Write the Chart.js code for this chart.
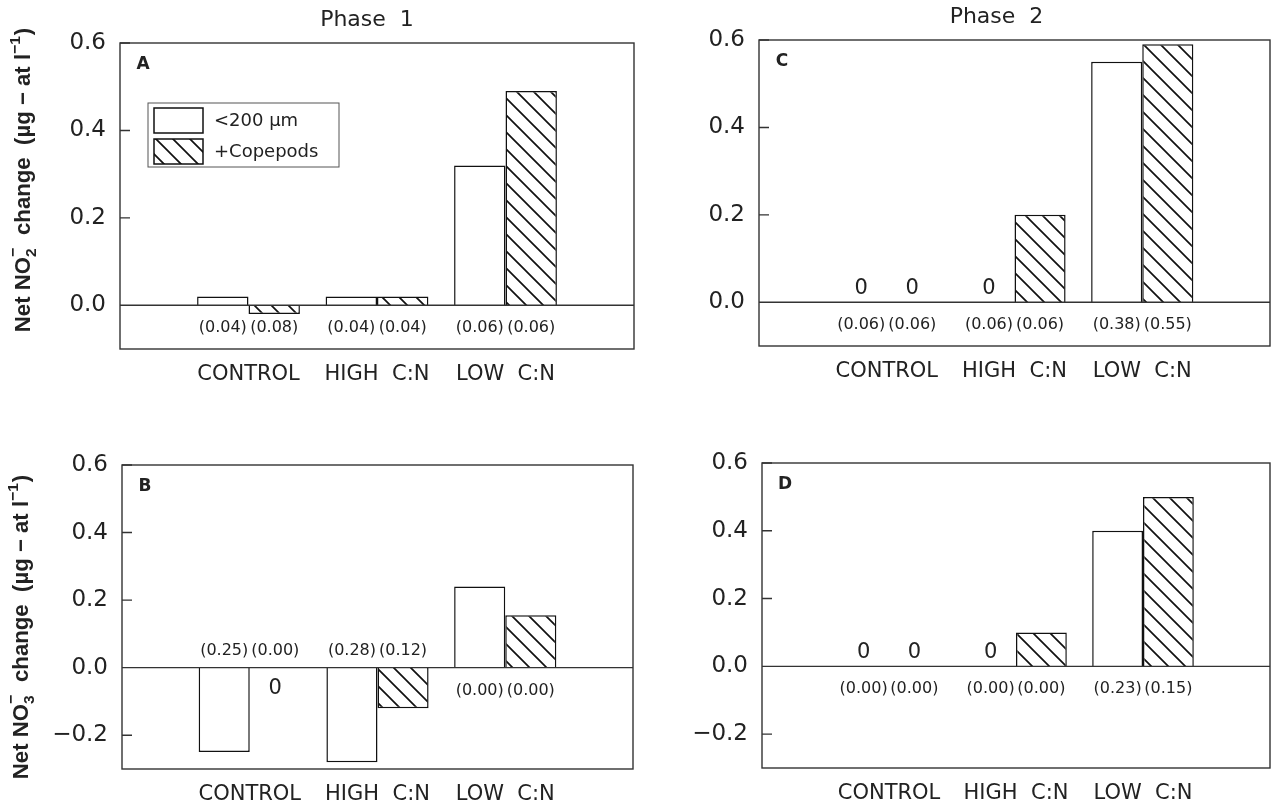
<!DOCTYPE html>
<html lang="en">
<head>
<meta charset="UTF-8">
<title>Net NO2- / NO3- change, Phase 1 and Phase 2</title>
<style>
  body { margin: 0; background: #fff; }
  canvas.panel { position: absolute; }
</style>
</head>
<body>
<canvas id="panelA" class="panel" width="640" height="410" style="left:0;top:0"></canvas>
<canvas id="panelB" class="panel" width="640" height="398" style="left:0;top:410px"></canvas>
<canvas id="panelC" class="panel" width="631" height="410" style="left:640px;top:0"></canvas>
<canvas id="panelD" class="panel" width="631" height="398" style="left:640px;top:410px"></canvas>

<script src="https://cdn.jsdelivr.net/npm/chart.js"></script>
<script>
// ---- data ----
const categories = ['CONTROL', 'HIGH  C:N', 'LOW  C:N'];
const seriesNames = ['<200 µm', '+Copepods'];

const ticksNO2 = [0, 0.2, 0.4, 0.6];
const ticksNO3 = [-0.2, 0, 0.2, 0.4, 0.6];

// A: net NO2- change, phase 1
const no2Phase1Small = [0.02, 0.02, 0.32];
const no2Phase1Cope = [-0.02, 0.02, 0.49];
const no2Phase1SmallSE = ['(0.04)', '(0.04)', '(0.06)'];
const no2Phase1CopeSE = ['(0.08)', '(0.04)', '(0.06)'];

// B: net NO3- change, phase 1
const no3Phase1Small = [-0.25, -0.28, 0.24];
const no3Phase1Cope = [0, -0.12, 0.155];
const no3Phase1SmallSE = ['(0.25)', '(0.28)', '(0.00)'];
const no3Phase1CopeSE = ['(0.00)', '(0.12)', '(0.00)'];

// C: net NO2- change, phase 2
const no2Phase2Small = [0, 0, 0.55];
const no2Phase2Cope = [0, 0.20, 0.59];
const no2Phase2SmallSE = ['(0.06)', '(0.06)', '(0.38)'];
const no2Phase2CopeSE = ['(0.06)', '(0.06)', '(0.55)'];

// D: net NO3- change, phase 2
const no3Phase2Small = [0, 0, 0.40];
const no3Phase2Cope = [0, 0.10, 0.50];
const no3Phase2SmallSE = ['(0.00)', '(0.00)', '(0.23)'];
const no3Phase2CopeSE = ['(0.00)', '(0.00)', '(0.15)'];

// ---- drawing ----
const FONT = "'DejaVu Sans', 'Liberation Sans', sans-serif";
const INK = '#222';

function makeHatch() {
    const s = 17;
    const c = document.createElement('canvas');
    c.width = s; c.height = s;
    const g = c.getContext('2d');
    g.fillStyle = '#fff';
    g.fillRect(0, 0, s, s);
    g.strokeStyle = '#111';
    g.lineWidth = 1.7;
    g.beginPath();
    g.moveTo(-2, -2); g.lineTo(s + 2, s + 2);
    g.moveTo(-2, s - 2); g.lineTo(2, s + 2);
    g.moveTo(s - 2, -2); g.lineTo(s + 2, 2);
    g.stroke();
    return document.createElement('canvas').getContext('2d').createPattern(c, 'repeat');
}
const hatch = makeHatch();

function pad(arr) { return [null].concat(arr, [null]); }

// rotated axis title: Net NOx- change (µg - at l-1)
function drawYTitle(ctx, cx, cy, len, sub) {
    const parts = [
        {t: 'Net NO', k: 'n'},
        {t: sub, k: 'sub', stack: '−'},
        {t: '  change  (µg − at l', k: 'n'},
        {t: '−1', k: 'sup'},
        {t: ')', k: 'n'}
    ];
    let fs = 17;
    const measure = function (size) {
        let w = 0;
        parts.forEach(function (p) {
            ctx.font = 'bold ' + (p.k === 'n' ? size : size * 0.7) + "px 'Liberation Sans', Arial, sans-serif";
            w += ctx.measureText(p.t).width + (p.k === 'n' ? 0 : 1);
        });
        return w;
    };
    fs = fs * len / measure(fs);
    const total = measure(fs);
    ctx.save();
    ctx.translate(cx, cy);
    ctx.rotate(-Math.PI / 2);
    ctx.fillStyle = INK;
    ctx.textBaseline = 'alphabetic';
    ctx.textAlign = 'left';
    let x = -total / 2;
    const base = fs * 0.36;
    parts.forEach(function (p) {
        const small = p.k !== 'n';
        ctx.font = 'bold ' + (small ? fs * 0.7 : fs) + "px 'Liberation Sans', Arial, sans-serif";
        let y = base;
        if (p.k === 'sub') y = base + fs * 0.25;
        if (p.k === 'sup') y = base - fs * 0.45;
        ctx.fillText(p.t, x, y);
        if (p.stack) ctx.fillText(p.stack, x, base - fs * 0.55);
        x += ctx.measureText(p.t).width + (small ? 1 : 0);
    });
    ctx.restore();
}

const decor = {
    id: 'decor',
    afterDatasetsDraw(chart) {
        const cfg = chart.options.plugins.decor;
        const ctx = chart.ctx;
        const a = chart.chartArea;
        const ys = chart.scales.y;
        const zeroY = ys.getPixelForValue(0);
        ctx.save();
        ctx.strokeStyle = '#333';
        ctx.lineWidth = 1.4;
        // frame and zero line
        ctx.strokeRect(a.left, a.top, a.right - a.left, a.bottom - a.top);
        ctx.beginPath();
        ctx.moveTo(a.left, zeroY); ctx.lineTo(a.right, zeroY);
        // inward tick marks
        ys.ticks.forEach(function (t) {
            const py = ys.getPixelForValue(t.value);
            ctx.moveTo(a.left, py); ctx.lineTo(a.left + 10, py);
        });
        ctx.stroke();

        ctx.fillStyle = INK;
        ctx.textAlign = 'center';
        ctx.textBaseline = 'middle';
        // SE labels and zero markers
        const small = cfg.values[0];
        [0, 1].forEach(function (d) {
            const meta = chart.getDatasetMeta(d);
            cfg.values[d].forEach(function (v, i) {
                const el = meta.data[i + 1];
                const above = small[i] < -0.05;
                ctx.font = '16px ' + FONT;
                ctx.fillText(cfg.se[d][i], el.x, above ? zeroY - 17 : zeroY + 23);
                if (v === 0) {
                    ctx.font = '21px ' + FONT;
                    ctx.fillText('0', el.x, above ? zeroY + 21 : zeroY - 14);
                }
            });
        });
        // panel letter
        ctx.font = 'bold 17px ' + FONT;
        ctx.fillText(cfg.letter, a.left + 23, a.top + 22);
        // phase title
        if (cfg.title) {
            ctx.font = '22px ' + FONT;
            ctx.fillText(cfg.title, (a.left + a.right) / 2 + cfg.titleDx, a.top - 23);
        }
        // legend
        if (cfg.legend) {
            const L = cfg.legend;
            ctx.lineWidth = 1;
            ctx.strokeStyle = '#555';
            ctx.strokeRect(L.x, L.y, 191, 64);
            ctx.lineWidth = 1.5;
            ctx.strokeStyle = '#111';
            ctx.textAlign = 'left';
            ctx.font = '18px ' + FONT;
            chart.data.datasets.forEach(function (ds, k) {
                const sy = L.y + 5 + k * 31;
                ctx.fillStyle = ds.backgroundColor;
                ctx.fillRect(L.x + 6, sy, 49, 25);
                ctx.strokeRect(L.x + 6, sy, 49, 25);
                ctx.fillStyle = INK;
                ctx.fillText(ds.label, L.x + 66, sy + 13);
            });
        }
        ctx.restore();
        if (cfg.yTitle) drawYTitle(ctx, cfg.yTitle.x, cfg.yTitle.y, 305, cfg.yTitle.sub);
    }
};

function makePanel(id, area, size, yMin, yMax, tickValues, small, cope, seSmall, seCope, extra) {
    return new Chart(document.getElementById(id), {
        type: 'bar',
        data: {
            labels: pad(categories),
            datasets: [
                {label: seriesNames[0], data: pad(small), backgroundColor: '#fff',
                 borderColor: '#111', borderWidth: 1.5},
                {label: seriesNames[1], data: pad(cope), backgroundColor: hatch,
                 borderColor: '#111', borderWidth: 1.5}
            ]
        },
        options: {
            responsive: false,
            animation: false,
            events: [],
            categoryPercentage: 0.8,
            barPercentage: 1.0,
            layout: {padding: {left: 0, top: area.t, right: size.w - area.r, bottom: 0}},
            scales: {
                x: {
                    type: 'category',
                    offset: false,
                    grid: {display: false, drawTicks: false},
                    border: {display: false},
                    ticks: {font: {family: FONT, size: 21}, color: INK, padding: 13,
                            maxRotation: 0, autoSkip: false},
                    afterFit: function (s) { s.height = size.h - area.b; }
                },
                y: {
                    min: yMin, max: yMax,
                    grid: {display: false, drawTicks: false},
                    border: {display: false},
                    ticks: {
                        font: {family: FONT, size: 23}, color: INK, padding: 14,
                        callback: function (v) { return v.toFixed(1).replace('-', '−'); }
                    },
                    afterBuildTicks: function (s) {
                        s.ticks = tickValues.map(function (v) { return {value: v}; });
                    },
                    afterFit: function (s) { s.width = area.l; }
                }
            },
            plugins: {
                legend: {display: false},
                tooltip: {enabled: false},
                decor: Object.assign({values: [small, cope], se: [seSmall, seCope]}, extra)
            }
        },
        plugins: [decor]
    });
}

makePanel('panelA', {l: 120, t: 43, r: 634, b: 349}, {w: 640, h: 410}, -0.1, 0.6, ticksNO2,
    no2Phase1Small, no2Phase1Cope, no2Phase1SmallSE, no2Phase1CopeSE,
    {letter: 'A', title: 'Phase  1', titleDx: -10, legend: {x: 148, y: 103},
     yTitle: {x: 22, y: 180, sub: '2'}});

makePanel('panelB', {l: 122, t: 55, r: 633, b: 359}, {w: 640, h: 398}, -0.3, 0.6, ticksNO3,
    no3Phase1Small, no3Phase1Cope, no3Phase1SmallSE, no3Phase1CopeSE,
    {letter: 'B', yTitle: {x: 20, y: 217, sub: '3'}});

makePanel('panelC', {l: 119, t: 40, r: 630, b: 346}, {w: 631, h: 410}, -0.1, 0.6, ticksNO2,
    no2Phase2Small, no2Phase2Cope, no2Phase2SmallSE, no2Phase2CopeSE,
    {letter: 'C', title: 'Phase  2', titleDx: -18});

makePanel('panelD', {l: 122, t: 53, r: 630, b: 358}, {w: 631, h: 398}, -0.3, 0.6, ticksNO3,
    no3Phase2Small, no3Phase2Cope, no3Phase2SmallSE, no3Phase2CopeSE,
    {letter: 'D'});
</script>
</body>
</html>
